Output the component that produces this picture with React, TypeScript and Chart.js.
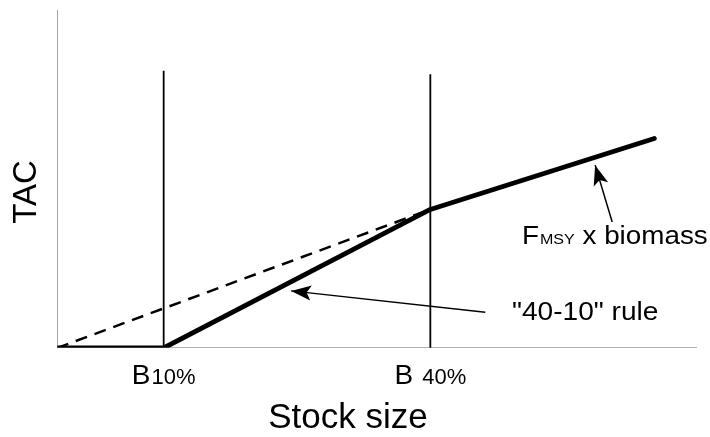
import React, { useEffect, useRef } from "react";
import { Chart, registerables } from "chart.js";

Chart.register(...registerables);

// ---- data ----
const stockSizeRange = [0, 120];
const tacRange = [0, 100];

// "40-10" harvest control rule (solid)
const ruleX = [0, 20, 70, 112];
const ruleY = [0, 0, 41, 62];

// FMSY x biomass below B40% (dashed)
const fmsyX = [0, 70];
const fmsyY = [0, 41];

// reference points
const refPointX = [20, 70];
const refPointTop = [82, 81];
const refPointMain = ["B", "B"];
const refPointSub = ["10%", "40%"];

// annotation arrows (tail -> head)
const ruleArrowX = [80.3, 43.9];
const ruleArrowY = [10.6, 16.9];
const fmsyArrowX = [104.1, 100.9];
const fmsyArrowY = [37.3, 54.1];

const pts = (xs: number[], ys: number[]) => xs.map((x, i) => ({ x, y: ys[i] }));

const FONT = "'Liberation Sans', Arial, Helvetica, sans-serif";

// draw text stretched horizontally a little to mimic the reference lettering
const wideText = (ctx: CanvasRenderingContext2D, text: string, x: number, y: number, sx: number) => {
  ctx.save();
  ctx.translate(x, y);
  ctx.scale(sx, 1);
  ctx.fillText(text, 0, 0);
  ctx.restore();
  return ctx.measureText(text).width * sx;
};

const annotationPlugin = {
  id: "annotations",
  afterDatasetsDraw(chart: any) {
    const ctx = chart.ctx as CanvasRenderingContext2D;
    const xs = chart.scales.x;
    const ys = chart.scales.y;
    const px = (v: number) => xs.getPixelForValue(v);
    const py = (v: number) => ys.getPixelForValue(v);

    // arrowheads
    const head = (xArr: number[], yArr: number[]) => {
      const x0 = px(xArr[0]), y0 = py(yArr[0]);
      const x1 = px(xArr[1]), y1 = py(yArr[1]);
      const ang = Math.atan2(y1 - y0, x1 - x0);
      const len = 20, half = 7.5;
      ctx.save();
      ctx.translate(x1, y1);
      ctx.rotate(ang);
      ctx.beginPath();
      ctx.moveTo(0, 0);
      ctx.lineTo(-len, -half);
      ctx.lineTo(-len * 0.78, 0);
      ctx.lineTo(-len, half);
      ctx.closePath();
      ctx.fillStyle = "#000";
      ctx.fill();
      ctx.restore();
    };
    head(ruleArrowX, ruleArrowY);
    head(fmsyArrowX, fmsyArrowY);

    ctx.save();
    ctx.fillStyle = "#000";
    ctx.textBaseline = "alphabetic";
    ctx.textAlign = "left";

    // reference point labels
    const base = py(0);
    refPointX.forEach((v, i) => {
      ctx.font = `28px ${FONT}`;
      const wMain = ctx.measureText(refPointMain[i]).width;
      ctx.font = `22px ${FONT}`;
      const wSub = ctx.measureText(refPointSub[i]).width;
      const gap = i === 0 ? 1 : 9;
      const total = wMain + gap + wSub;
      const start = px(v) - total / 2;
      ctx.font = `28px ${FONT}`;
      ctx.fillText(refPointMain[i], start, base + 36);
      ctx.font = `22px ${FONT}`;
      ctx.fillText(refPointSub[i], start + wMain + gap, base + 36);
    });

    // x axis title
    ctx.textAlign = "center";
    ctx.font = `35px ${FONT}`;
    ctx.fillText("Stock size", 348, 428);

    // y axis title
    ctx.save();
    ctx.translate(36, 192);
    ctx.rotate(-Math.PI / 2);
    ctx.font = `33px ${FONT}`;
    ctx.textAlign = "center";
    ctx.fillText("TAC", 0, 0);
    ctx.restore();

    // FMSY x biomass
    ctx.textAlign = "left";
    let x = 522;
    const sx = 1.07;
    ctx.font = `26px ${FONT}`;
    x += wideText(ctx, "F", x, 244, sx) + 1;
    ctx.font = `15px ${FONT}`;
    x += wideText(ctx, "MSY", x, 244, sx);
    ctx.font = `26px ${FONT}`;
    wideText(ctx, " x biomass", x, 244, sx);

    // "40-10" rule
    wideText(ctx, '"40-10" rule', 512, 320, 1.08);
    ctx.restore();
  },
};

export default function App() {
  const canvasRef = useRef<HTMLCanvasElement | null>(null);

  useEffect(() => {
    if (!canvasRef.current) return;
    const line = (data: any[], extra: any) => ({
      data,
      showLine: true,
      pointRadius: 0,
      fill: false,
      borderColor: "#000",
      borderWidth: 2,
      tension: 0,
      ...extra,
    });
    const chart = new Chart(canvasRef.current, {
      type: "scatter",
      data: {
        datasets: [
          line(pts([stockSizeRange[0], stockSizeRange[1]], [0, 0]), { borderColor: "#666", borderWidth: 1.2 }),
          line(pts([0, 0], [tacRange[0], tacRange[1]]), { borderColor: "#666", borderWidth: 1.2 }),
          line(pts([refPointX[0], refPointX[0]], [0, refPointTop[0]]), { borderWidth: 1.8 }),
          line(pts([refPointX[1], refPointX[1]], [0, refPointTop[1]]), { borderWidth: 1.8 }),
          line(pts(fmsyX, fmsyY), { borderWidth: 2.5, borderDash: [12, 8] }),
          line(pts(ruleX, ruleY), { borderWidth: 4.8, borderCapStyle: "round", borderJoinStyle: "round" }),
          line(pts(ruleArrowX, ruleArrowY), { borderWidth: 1.5 }),
          line(pts(fmsyArrowX, fmsyArrowY), { borderWidth: 1.5 }),
        ],
      },
      options: {
        responsive: false,
        animation: false,
        events: [],
        layout: { padding: { left: 57, top: 10, right: 13, bottom: 89 } },
        plugins: { legend: { display: false }, tooltip: { enabled: false } },
        scales: {
          x: { type: "linear", display: false, min: stockSizeRange[0], max: stockSizeRange[1] },
          y: { type: "linear", display: false, min: tacRange[0], max: tacRange[1] },
        },
      },
      plugins: [annotationPlugin],
    });
    return () => chart.destroy();
  }, []);

  return (
    <div style={{ position: "fixed", left: 0, top: 0, width: 710, height: 437, background: "#fff" }}>
      <canvas ref={canvasRef} width={710} height={437} style={{ display: "block" }} />
    </div>
  );
}
